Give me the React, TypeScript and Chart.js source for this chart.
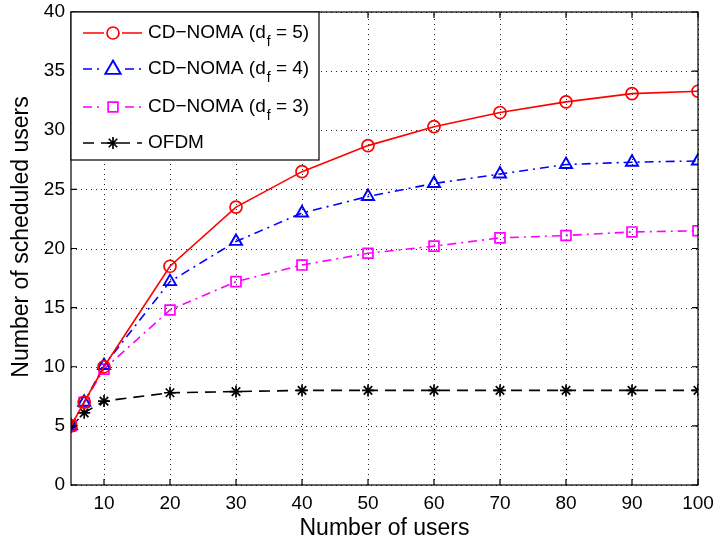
import React, { useEffect, useRef } from "react";
import { Chart, registerables } from "chart.js";

Chart.register(...registerables);

const users = [5, 7, 10, 20, 30, 40, 50, 60, 70, 80, 90, 100];
const df5 = [5, 7, 10, 18.5, 23.5, 26.5, 28.7, 30.3, 31.5, 32.4, 33.1, 33.3];
const df4 = [5, 7, 10.1, 17.2, 20.6, 23.0, 24.4, 25.5, 26.3, 27.1, 27.3, 27.4];
const df3 = [5, 7, 9.8, 14.8, 17.2, 18.6, 19.6, 20.2, 20.9, 21.1, 21.4, 21.5];
const ofdm = [4.9, 6.1, 7.1, 7.8, 7.9, 8.0, 8.0, 8.0, 8.0, 8.0, 8.0, 8.0];
const xTicks = [10, 20, 30, 40, 50, 60, 70, 80, 90, 100];
const yTicks = [0, 5, 10, 15, 20, 25, 30, 35, 40];
const legendLabels = ["CD\u2212NOMA (d", "CD\u2212NOMA (d", "CD\u2212NOMA (d", "OFDM"];
const legendSub = ["f", "f", "f", ""];
const legendTail = [" = 5)", " = 4)", " = 3)", ""];
const yTitle = "Number of scheduled users";
const xTitle = "Number of users";

const FONT = "Liberation Sans, Arial, sans-serif";

function drawMarker(ctx: CanvasRenderingContext2D, style: string, x: number, y: number, r: number) {
  ctx.beginPath();
  if (style === "circle") {
    ctx.arc(x, y, r, 0, Math.PI * 2);
    ctx.stroke();
  } else if (style === "triangle") {
    ctx.moveTo(x, y - r * 1.2);
    ctx.lineTo(x + r * 1.1, y + r * 0.7);
    ctx.lineTo(x - r * 1.1, y + r * 0.7);
    ctx.closePath();
    ctx.stroke();
  } else if (style === "rect") {
    ctx.rect(x - r * 0.7, y - r * 0.7, r * 1.4, r * 1.4);
    ctx.stroke();
  } else if (style === "star") {
    for (let k = 0; k < 4; k++) {
      const ang = (k * Math.PI) / 4;
      ctx.moveTo(x - Math.cos(ang) * r, y - Math.sin(ang) * r);
      ctx.lineTo(x + Math.cos(ang) * r, y + Math.sin(ang) * r);
    }
    ctx.stroke();
  }
}

const gridPlugin = {
  id: "dotgrid",
  beforeDatasetsDraw(chart: any) {
    const { ctx, chartArea: a, scales } = chart;
    ctx.save();
    ctx.strokeStyle = "#222";
    ctx.lineWidth = 1;
    ctx.setLineDash([1, 4]);
    ctx.beginPath();
    for (const v of xTicks) {
      const x = Math.round(scales.x.getPixelForValue(v)) + 0.5;
      ctx.moveTo(x, a.bottom); ctx.lineTo(x, a.top);
    }
    for (const v of yTicks) {
      const y = Math.round(scales.y.getPixelForValue(v)) + 0.5;
      ctx.moveTo(a.left, y); ctx.lineTo(a.right, y);
    }
    ctx.stroke();
    ctx.restore();
    // axis titles
    ctx.save();
    ctx.fillStyle = "#000";
    ctx.font = `23px ${FONT}`;
    ctx.textAlign = "center";
    ctx.textBaseline = "alphabetic";
    ctx.fillText(xTitle, (a.left + a.right) / 2, 535);
    ctx.textBaseline = "middle";
    ctx.translate(22, 237);
    ctx.rotate(-Math.PI / 2);
    ctx.fillText(yTitle, 0, 0);
    ctx.restore();
  },
};

const framePlugin = {
  id: "frame",
  afterDatasetsDraw(chart: any) {
    const { ctx, chartArea: a, scales } = chart;
    ctx.save();
    ctx.strokeStyle = "#000";
    ctx.lineWidth = 1.2;
    ctx.setLineDash([]);
    ctx.strokeRect(a.left, a.top, a.right - a.left, a.bottom - a.top);
    const tl = 6;
    ctx.beginPath();
    for (const v of xTicks) {
      const x = scales.x.getPixelForValue(v);
      ctx.moveTo(x, a.bottom); ctx.lineTo(x, a.bottom - tl);
      ctx.moveTo(x, a.top); ctx.lineTo(x, a.top + tl);
    }
    for (const v of yTicks) {
      const y = scales.y.getPixelForValue(v);
      ctx.moveTo(a.left, y); ctx.lineTo(a.left + tl, y);
      ctx.moveTo(a.right, y); ctx.lineTo(a.right - tl, y);
    }
    ctx.stroke();

    // legend
    const lx = a.left, ly = a.top, lw = 248, lh = 148;
    ctx.fillStyle = "#fff";
    ctx.fillRect(lx, ly, lw, lh);
    ctx.strokeRect(lx, ly, lw, lh);
    const ds = chart.data.datasets;
    const rows = [21, 57, 95, 131];
    ds.forEach((d: any, i: number) => {
      const y = ly + rows[i];
      ctx.save();
      ctx.strokeStyle = d.borderColor;
      ctx.lineWidth = d.borderWidth;
      ctx.setLineDash(d.borderDash || []);
      ctx.beginPath();
      ctx.moveTo(lx + 12, y);
      ctx.lineTo(lx + 71, y);
      ctx.stroke();
      ctx.setLineDash([]);
      ctx.restore();
      ctx.save();
      ctx.strokeStyle = d.pointBorderColor;
      ctx.lineWidth = d.pointBorderWidth;
      ctx.fillStyle = "#fff";
      if (d.pointStyle !== "star") {
        ctx.fillRect(lx + 33, y - 8, 18, 16);
      }
      drawMarker(ctx, d.pointStyle, lx + 42, y, d.pointRadius);
      ctx.restore();
      ctx.fillStyle = "#000";
      ctx.font = `19px ${FONT}`;
      ctx.textBaseline = "middle";
      ctx.textAlign = "left";
      let tx = lx + 77;
      ctx.fillText(legendLabels[i], tx, y);
      tx += ctx.measureText(legendLabels[i]).width;
      if (legendSub[i]) {
        ctx.font = `14px ${FONT}`;
        ctx.fillText(legendSub[i], tx + 1, y + 9);
        tx += ctx.measureText(legendSub[i]).width + 1;
        ctx.font = `19px ${FONT}`;
        ctx.fillText(legendTail[i], tx, y);
      }
    });
    ctx.restore();
  },
};

export default function App() {
  const ref = useRef<HTMLCanvasElement>(null);
  useEffect(() => {
    if (!ref.current) return;
    const mk = (data: number[]) => users.map((x, i) => ({ x, y: data[i] }));
    const chart = new Chart(ref.current, {
      type: "line",
      data: {
        datasets: [
          { label: "df5", data: mk(df5), borderColor: "#ff0000", borderWidth: 1.6, pointStyle: "circle", pointRadius: 6, pointBorderColor: "#ff0000", pointBackgroundColor: "rgba(255,255,255,0)", pointBorderWidth: 1.7, borderDash: [] },
          { label: "df4", data: mk(df4), borderColor: "#0000ff", borderWidth: 1.6, pointStyle: "triangle", pointRadius: 7, pointBorderColor: "#0000ff", pointBackgroundColor: "rgba(255,255,255,0)", pointBorderWidth: 1.9, borderDash: [9, 5, 2, 5] },
          { label: "df3", data: mk(df3), borderColor: "#ff00ff", borderWidth: 1.6, pointStyle: "rect", pointRadius: 7, pointBorderColor: "#ff00ff", pointBackgroundColor: "rgba(255,255,255,0)", pointBorderWidth: 1.7, borderDash: [9, 5, 2, 5] },
          { label: "ofdm", data: mk(ofdm), borderColor: "#000000", borderWidth: 1.6, pointStyle: "star", pointRadius: 6, pointBorderColor: "#000000", pointBackgroundColor: "#000", pointBorderWidth: 1.7, borderDash: [11, 7] },
        ] as any,
      },
      options: {
        animation: false,
        responsive: false,
        devicePixelRatio: 1,
        layout: { padding: { top: 12, right: 16, left: 0, bottom: 0 } },
        plugins: { legend: { display: false }, tooltip: { enabled: false } },
        elements: { line: { tension: 0 } },
        scales: {
          x: {
            type: "linear",
            min: 5,
            max: 100,
            afterBuildTicks: (s: any) => { s.ticks = xTicks.map((v) => ({ value: v })); },
            afterFit: (s: any) => { s.height = 53; s.paddingLeft = 0; s.paddingRight = 0; },
            ticks: { color: "#000", font: { size: 19, family: FONT }, padding: 7, maxRotation: 0 },
            grid: { display: false, drawTicks: false },
            border: { display: false },
            title: { display: false },
          },
          y: {
            min: 0,
            max: 40,
            afterBuildTicks: (s: any) => { s.ticks = yTicks.map((v) => ({ value: v })); },
            afterFit: (s: any) => { s.width = 71; s.paddingTop = 0; s.paddingBottom = 0; },
            ticks: { color: "#000", font: { size: 19, family: FONT }, padding: 6 },
            grid: { display: false, drawTicks: false },
            border: { display: false },
            title: { display: false },
          },
        },
      } as any,
      plugins: [gridPlugin, framePlugin],
    });
    return () => chart.destroy();
  }, []);
  return (
    <div style={{ position: "absolute", left: 0, top: 0, width: 714, height: 538, background: "#fff" }}>
      <canvas ref={ref} width={714} height={538} style={{ width: 714, height: 538 }} />
    </div>
  );
}
